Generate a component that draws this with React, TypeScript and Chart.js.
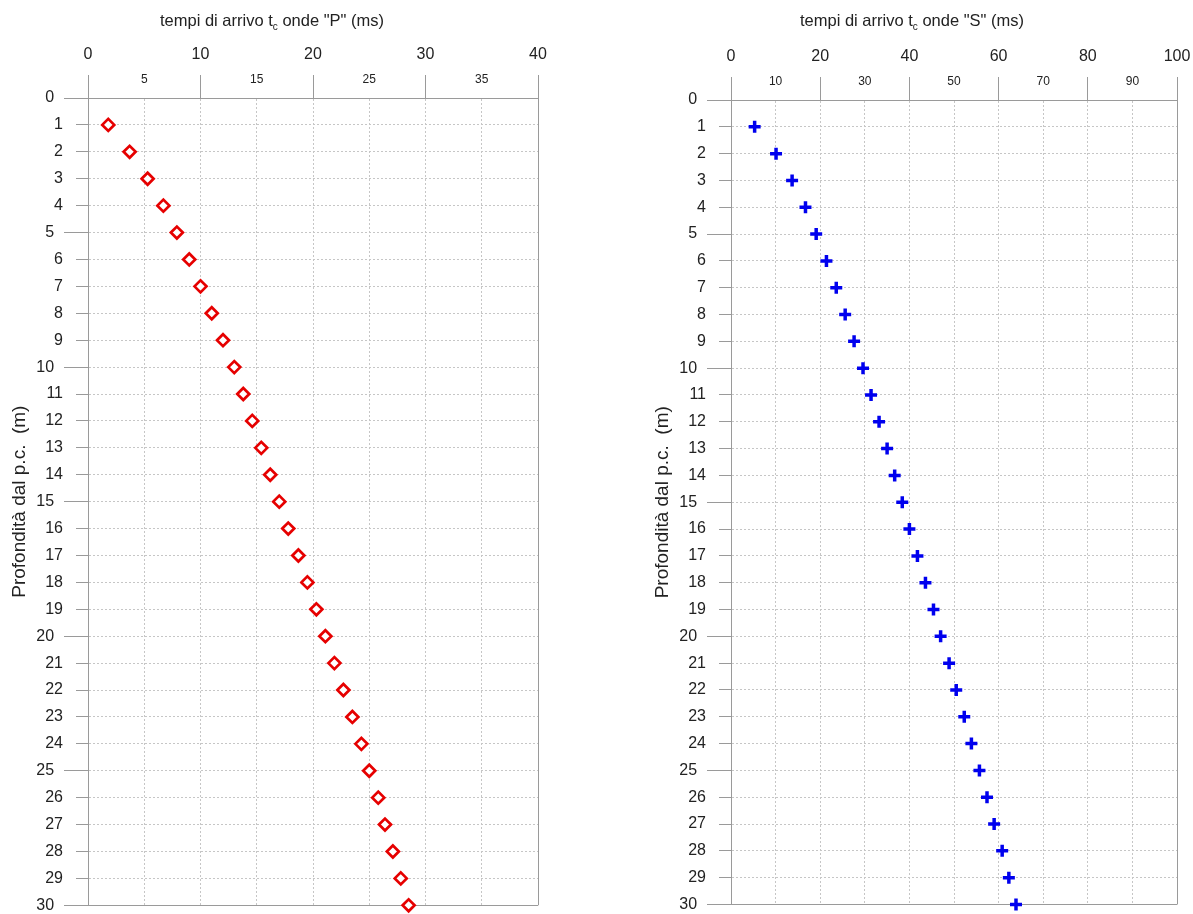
import React, { useEffect, useRef } from 'react';
import { Chart, registerables } from 'chart.js';

Chart.register(...registerables);

// ---- Data ----
const depths = [1, 2, 3, 4, 5, 6, 7, 8, 9, 10, 11, 12, 13, 14, 15, 16, 17, 18, 19, 20, 21, 22, 23, 24, 25, 26, 27, 28, 29, 30];
const tempiP = [1.8, 3.7, 5.3, 6.7, 7.9, 9.0, 10.0, 11.0, 12.0, 13.0, 13.8, 14.6, 15.4, 16.2, 17.0, 17.8, 18.7, 19.5, 20.3, 21.1, 21.9, 22.7, 23.5, 24.3, 25.0, 25.8, 26.4, 27.1, 27.8, 28.5];
const tempiS = [5.3, 10.1, 13.7, 16.7, 19.1, 21.4, 23.6, 25.6, 27.6, 29.6, 31.4, 33.2, 35.0, 36.7, 38.4, 40.0, 41.8, 43.6, 45.4, 47.0, 48.9, 50.5, 52.3, 53.9, 55.7, 57.4, 59.0, 60.8, 62.3, 63.9];

// axis tick definitions
const depthMin = 0;
const depthMax = 30;
const depthMajorStep = 5;
const pAxisMax = 40;
const pMajorStep = 10;
const pMinorStep = 5;
const sAxisMax = 100;
const sMajorStep = 20;
const sMinorStep = 10;

const yTitle = 'Profondità dal p.c.  (m)';
const FONT = "'Liberation Sans', Arial, Helvetica, sans-serif";
const TEXT = '#222';
const EDGE = '#9a9a9a';
const GRID = '#c6c6c6';

type PanelCfg = {
  xs: number[];
  xMax: number;
  majorStep: number;
  minorStep: number;
  color: string;
  pointStyle: any;
  radius: number;
  bw: number;
  padding: { left: number; right: number; top: number; bottom: number };
};

function buildConfig(p: PanelCfg): any {
  const isEdgeX = (v: number) => v === 0 || v === p.xMax;
  const isEdgeY = (v: number) => v === depthMin || v === depthMax;
  const fixX = (h: number) => (s: any) => {
    s.height = h;
    s.paddingLeft = 0;
    s.paddingRight = 0;
  };
  return {
    type: 'scatter',
    data: {
      datasets: [
        {
          data: depths.map((d, i) => ({ x: p.xs[i], y: d })),
          xAxisID: 'x',
          yAxisID: 'y',
          pointStyle: p.pointStyle,
          pointRadius: p.radius,
          pointHoverRadius: p.radius,
          pointBorderWidth: p.bw,
          pointHoverBorderWidth: p.bw,
          borderColor: p.color,
          pointBorderColor: p.color,
          backgroundColor: '#ffffff',
          pointBackgroundColor: '#ffffff',
          showLine: false,
          clip: false,
        },
      ],
    },
    options: {
      animation: false,
      responsive: true,
      maintainAspectRatio: false,
      layout: { padding: p.padding },
      plugins: { legend: { display: false }, tooltip: { enabled: false } },
      scales: {
        x: {
          type: 'linear',
          position: 'top',
          weight: 0,
          min: 0,
          max: p.xMax,
          afterFit: fixX(30),
          ticks: {
            stepSize: p.minorStep,
            autoSkip: false,
            maxRotation: 0,
            padding: -12,
            color: TEXT,
            font: { family: FONT, size: 12 },
            callback: (v: number) => (v % p.majorStep === 0 ? '' : String(v)),
          },
          grid: {
            color: (ctx: any) => (ctx.tick && isEdgeX(ctx.tick.value) ? EDGE : GRID),
            lineWidth: 1,
            tickLength: 23,
            tickColor: (ctx: any) => (ctx.tick && ctx.tick.value % p.majorStep === 0 ? EDGE : 'rgba(0,0,0,0)'),
          },
          border: {
            display: true,
            color: EDGE,
            dash: (ctx: any) => (ctx.type === 'tick' && ctx.tick && !isEdgeX(ctx.tick.value) ? [2, 2] : []),
          },
        },
        x2: {
          type: 'linear',
          position: 'top',
          weight: 1,
          min: 0,
          max: p.xMax,
          afterFit: fixX(68),
          ticks: {
            stepSize: p.majorStep,
            autoSkip: false,
            maxRotation: 0,
            padding: 4,
            color: TEXT,
            font: { family: FONT, size: 16 },
          },
          grid: { display: false, drawTicks: false },
          border: { display: false },
        },
        y: {
          type: 'linear',
          position: 'left',
          reverse: true,
          min: depthMin,
          max: depthMax,
          afterFit: (s: any) => {
            s.width = 88;
            s.paddingTop = 0;
            s.paddingBottom = 0;
          },
          ticks: {
            stepSize: 1,
            autoSkip: false,
            padding: 1,
            color: TEXT,
            font: { family: FONT, size: 16 },
            callback: (v: number) => (v % depthMajorStep === 0 ? String(v) + '  ' : String(v)),
          },
          grid: {
            color: (ctx: any) => (ctx.tick && isEdgeY(ctx.tick.value) ? EDGE : GRID),
            lineWidth: 1,
            tickLength: 24,
            tickColor: EDGE,
            tickBorderDash: (ctx: any) => (ctx.tick && ctx.tick.value % depthMajorStep === 0 ? [] : [0, 12, 12, 0]),
          },
          border: {
            display: true,
            color: EDGE,
            dash: (ctx: any) => (ctx.type === 'tick' && ctx.tick && !isEdgeY(ctx.tick.value) ? [2, 2] : []),
          },
          title: {
            display: true,
            text: yTitle,
            color: TEXT,
            font: { family: FONT, size: 19 },
            padding: { top: 8.6, bottom: 0 },
          },
        },
      },
    },
  };
}

function Panel(props: { cfg: PanelCfg; style: React.CSSProperties }) {
  const ref = useRef<HTMLCanvasElement | null>(null);
  useEffect(() => {
    if (!ref.current) return;
    const chart = new Chart(ref.current, buildConfig(props.cfg));
    return () => chart.destroy();
  }, []);
  return (
    <div style={{ position: 'absolute', ...props.style }}>
      <canvas ref={ref} />
    </div>
  );
}

function Title(props: { wave: string; cx: number }) {
  return (
    <div
      style={{
        position: 'absolute',
        left: props.cx,
        top: 11,
        transform: 'translateX(-50%)',
        whiteSpace: 'nowrap',
        fontFamily: FONT,
        fontSize: 16.5,
        lineHeight: '19px',
        color: TEXT,
      }}
    >
      tempi di arrivo t<sub style={{ fontSize: 10, verticalAlign: '-4px', lineHeight: 0 }}>c</sub> onde "{props.wave}" (ms)
    </div>
  );
}

export default function App() {
  const pCfg: PanelCfg = {
    xs: tempiP,
    xMax: pAxisMax,
    majorStep: pMajorStep,
    minorStep: pMinorStep,
    color: '#e60000',
    pointStyle: 'rectRot',
    radius: 6,
    bw: 2.7,
    padding: { left: 0, right: 62, top: 0, bottom: 5 },
  };
  const sCfg: PanelCfg = {
    xs: tempiS,
    xMax: sAxisMax,
    majorStep: sMajorStep,
    minorStep: sMinorStep,
    color: '#0000ee',
    pointStyle: 'cross',
    radius: 6,
    bw: 3.5,
    padding: { left: 0, right: 16, top: 2, bottom: 8 },
  };
  return (
    <div style={{ position: 'absolute', left: 0, top: 0, width: 1193, height: 914, background: '#fff', overflow: 'hidden' }}>
      <Panel cfg={pCfg} style={{ left: 0, top: 0, width: 600, height: 914 }} />
      <Panel cfg={sCfg} style={{ left: 643, top: 0, width: 550, height: 914 }} />
      <Title wave="P" cx={272} />
      <Title wave="S" cx={912} />
    </div>
  );
}
